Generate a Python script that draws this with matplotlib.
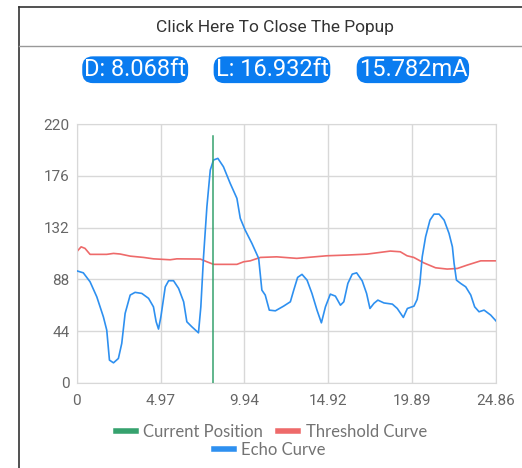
import matplotlib.pyplot as plt
from matplotlib.lines import Line2D

plt.rcParams['font.family'] = ['Roboto', 'DejaVu Sans']

# echo curve (distance ft, amplitude)
echo_x = [0, 0.39, 0.79, 1.19, 1.58, 1.78, 1.94, 2.18, 2.47, 2.67, 2.87, 3.17, 3.46, 3.86,
          4.26, 4.55, 4.71, 4.85, 4.99, 5.25, 5.45, 5.74, 6.04, 6.34, 6.53, 6.83, 7.22,
          7.36, 7.52, 7.72, 7.92, 8.11, 8.37, 8.7, 9.1, 9.5, 9.7, 9.99, 10.39, 10.79,
          10.98, 11.18, 11.42, 11.78, 12.27, 12.67, 12.87, 13.1, 13.36, 13.66, 13.95,
          14.25, 14.51, 14.75, 15.04, 15.34, 15.64, 15.84, 16.08, 16.34, 16.6, 16.93,
          17.19, 17.39, 17.63, 17.86, 18.22, 18.72, 19.01, 19.37, 19.61, 20.0, 20.19,
          20.35, 20.49, 20.69, 20.95, 21.19, 21.49, 21.79, 22.08, 22.28, 22.38, 22.52,
          22.77, 23.07, 23.37, 23.6, 23.86, 24.16, 24.55, 24.86]
echo_y = [95.2, 93.5, 85.9, 73.1, 56.1, 44.8, 19.3, 17, 20.7, 33.5, 59, 74.6, 76.9, 76,
          71.8, 64.6, 51.9, 45.7, 56.1, 81.6, 86.8, 86.8, 80.3, 68.9, 51.9, 47.6, 42.5,
          64.6, 107.1, 149.7, 180.9, 189.4, 190.8, 183.7, 169.6, 156.8, 139.8, 129.8,
          118.5, 105.8, 78.8, 74.6, 61.8, 61.2, 65.2, 68.9, 78.8, 89.6, 92.2, 87.3, 76,
          61.8, 51, 64.6, 75.4, 73.7, 66, 68.9, 84.5, 92.4, 93.5, 86.7, 76, 63.2, 67.6,
          70.3, 67.9, 66.9, 63.2, 55.6, 63.2, 65.2, 70.9, 84.5, 107.1, 124.1, 138.3,
          143.4, 143.4, 138.3, 127, 115.6, 101.5, 87.3, 84.5, 81.6, 74.6, 64.6, 60.4,
          61.8, 57.6, 52.7]

# threshold curve
thr_x = [0, 0.26, 0.49, 0.79, 1.78, 2.18, 2.57, 3.17, 3.96, 4.55, 5.54, 5.94, 7.33,
         7.72, 8.12, 9.5, 9.9, 10.29, 10.89, 11.86, 13.05, 14.83, 16.02, 17.21, 18.6,
         19.19, 19.59, 19.99, 20.58, 21.28, 21.97, 22.57, 23.16, 23.96, 24.86]
thr_y = [111.4, 115.6, 114.3, 109.2, 109.2, 110, 109.5, 107.7, 106.6, 105.4, 104.6,
         105.4, 105.2, 102.9, 100.7, 100.7, 102.9, 103.7, 106.6, 107.1, 105.8, 108,
         108.6, 109.4, 112, 111.4, 108, 106.6, 102, 97.8, 96.7, 97.2, 100.1, 103.7, 103.7]

current_pos = 8.068
current_top = 210

x_ticks = [0, 4.97, 9.94, 14.92, 19.89, 24.86]
x_labels = ['0', '4.97', '9.94', '14.92', '19.89', '24.86']
y_ticks = [0, 44, 88, 132, 176, 220]

badges = ['D: 8.068ft', 'L: 16.932ft', '15.782mA']

fig = plt.figure(figsize=(5.22, 4.68), dpi=100)
ax = fig.add_axes([0.147, 0.182, 0.803, 0.553])

ax.plot(echo_x, echo_y, color='#2e90f0', lw=1.2, zorder=3, solid_joinstyle='round')
ax.plot(thr_x, thr_y, color='#ee6a6a', lw=1.2, zorder=2)
ax.plot([current_pos, current_pos], [0, current_top], color='#36a26e', lw=1.1, zorder=4)

ax.set_xlim(0, 24.86)
ax.set_ylim(0, 220)
ax.set_xticks(x_ticks)
ax.set_xticklabels(x_labels)
ax.set_yticks(y_ticks)
ax.grid(True, color='#d8d8d8', lw=1)
ax.set_axisbelow(True)
for s in ax.spines.values():
    s.set_color('#d8d8d8')
ax.tick_params(length=0, labelsize=11, colors='#666666')
ax.tick_params(axis='x', pad=8)
ax.tick_params(axis='y', pad=5)

# popup frame
fig.add_artist(Line2D([0.036, 0.036], [0, 0.984], color='#333333', lw=1.2))
fig.add_artist(Line2D([0.036, 1], [0.984, 0.984], color='#333333', lw=1.2))
fig.add_artist(Line2D([0.036, 1], [0.902, 0.902], color='#999999', lw=1))
fig.text(0.527, 0.942, 'Click Here To Close The Popup', ha='center', va='center',
         fontsize=12.5, color='#333333')

badge_x = [0.259, 0.521, 0.791]
for bx, txt in zip(badge_x, badges):
    fig.text(bx, 0.851, txt, ha='center', va='center', fontsize=17, color='white',
             bbox=dict(boxstyle='round,pad=0.08,rounding_size=0.45', fc='#0a7cf0', ec='none'))

leg_font = dict(family=['Lato', 'DejaVu Sans'], size=12)
h1 = [Line2D([], [], color='#36a26e', lw=4), Line2D([], [], color='#ee6a6a', lw=4)]
fig.legend(h1, ['Current Position', 'Threshold Curve'], loc='center',
           bbox_to_anchor=(0.52, 0.077), ncol=2, frameon=False, prop=leg_font,
           handlelength=1.2, handletextpad=0.45, columnspacing=0.9,
           labelcolor='#737373', borderpad=0, borderaxespad=0)
h2 = [Line2D([], [], color='#2e90f0', lw=4)]
fig.legend(h2, ['Echo Curve'], loc='center', bbox_to_anchor=(0.517, 0.038),
           frameon=False, prop=leg_font, handlelength=1.2, handletextpad=0.45,
           labelcolor='#737373', borderpad=0, borderaxespad=0)

fig.savefig('out.png', dpi=100)
